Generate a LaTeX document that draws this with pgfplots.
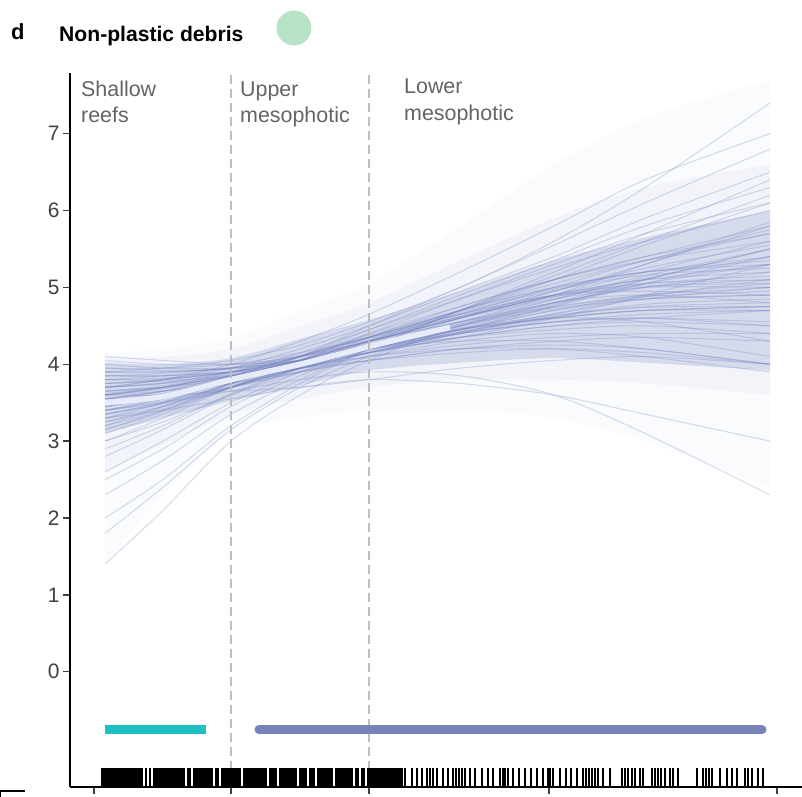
\documentclass[border=0pt]{standalone}
\usepackage{pgfplots}
\pgfplotsset{compat=1.18}
\usepgfplotslibrary{fillbetween}
\usepackage{fontspec}
\setmainfont{Liberation Sans}
\definecolor{spagc}{RGB}{112,128,190}
\definecolor{meanc}{RGB}{232,235,248}
\definecolor{shallowc}{RGB}{31,192,194}
\definecolor{mesoc}{RGB}{120,132,183}
\definecolor{dashc}{RGB}{190,190,190}
\definecolor{labc}{RGB}{100,100,100}
\definecolor{dotc}{RGB}{183,228,196}
\newcommand{\drawline}[9]{\addplot[spag] coordinates {(105,#1)(163,#2)(231,#3)(300,#4)(369,#5)(460,#6)(554,#7)(645,#8)(770,#9)};}
\begin{document}
\begin{tikzpicture}[x=1bp,y=1bp]
\begin{axis}[
  at={(70bp,10bp)}, anchor=south west,
  scale only axis, width=732bp, height=714bp,
  xmin=70, xmax=802, ymin=-1.5, ymax=7.79,
  axis lines*=left,
  axis line style={black, line width=2bp},
  xtick={94,231,369,549,777}, xticklabels={},
  ytick={0,1,2,3,4,5,6,7},
  tick align=outside, major tick length=7bp,
  tick style={black!75, line width=1.3bp},
  yticklabel style={font=\fontsize{21}{24}\selectfont, text=black!75},
  /pgf/number format/assume math mode=true,
  clip=false,
  spag/.style={color=spagc, opacity=0.27, line width=1.1bp, smooth, no markers},
]
% density bands
\addplot[name path=uo, draw=none, smooth] coordinates {(105,4.15)(163,4.2)(231,4.35)(300,4.7)(369,5.05)(460,5.8)(554,6.6)(645,7.2)(770,7.7)};
\addplot[name path=lo, draw=none, smooth] coordinates {(105,1.4)(163,2.3)(231,3.1)(300,3.3)(369,3.4)(460,3.4)(554,3.3)(645,3.0)(770,2.4)};
\addplot[spagc, fill opacity=0.035] fill between[of=uo and lo];
\addplot[name path=um, draw=none, smooth] coordinates {(105,4.1)(163,4.1)(231,4.2)(300,4.5)(369,4.8)(460,5.35)(554,5.9)(645,6.3)(770,6.6)};
\addplot[name path=lm, draw=none, smooth] coordinates {(105,2.6)(163,2.95)(231,3.35)(300,3.55)(369,3.7)(460,3.8)(554,3.8)(645,3.75)(770,3.6)};
\addplot[spagc, fill opacity=0.05] fill between[of=um and lm];
\addplot[name path=ui, draw=none, smooth] coordinates {(105,4.02)(163,4.0)(231,4.08)(300,4.33)(369,4.58)(460,4.95)(554,5.35)(645,5.65)(770,6.0)};
\addplot[name path=li, draw=none, smooth] coordinates {(105,3.1)(163,3.3)(231,3.52)(300,3.72)(369,3.92)(460,4.02)(554,4.08)(645,4.02)(770,3.92)};
\addplot[spagc, fill opacity=0.22] fill between[of=ui and li];
% posterior draws
\drawline{3.6}{3.7}{3.85}{4.05}{4.3}{4.55}{4.75}{4.9}{5.0}
\drawline{3.4}{3.55}{3.8}{4.05}{4.3}{4.6}{4.9}{5.1}{5.3}
\drawline{3.8}{3.8}{3.9}{4.05}{4.25}{4.45}{4.6}{4.7}{4.75}
\drawline{3.2}{3.45}{3.75}{4.0}{4.25}{4.55}{4.85}{5.15}{5.5}
\drawline{3.9}{3.9}{3.95}{4.1}{4.3}{4.6}{4.9}{5.2}{5.6}
\drawline{3.5}{3.6}{3.8}{4.0}{4.2}{4.4}{4.55}{4.65}{4.7}
\drawline{3.0}{3.3}{3.7}{4.0}{4.35}{4.75}{5.1}{5.4}{5.8}
\drawline{3.7}{3.75}{3.85}{4.0}{4.2}{4.35}{4.45}{4.5}{4.4}
\drawline{3.3}{3.45}{3.7}{3.95}{4.2}{4.5}{4.8}{5.0}{5.1}
\drawline{4.0}{3.95}{3.95}{4.05}{4.2}{4.4}{4.55}{4.6}{4.5}
\drawline{3.6}{3.7}{3.9}{4.15}{4.45}{4.85}{5.25}{5.6}{6.0}
\drawline{3.1}{3.35}{3.7}{3.95}{4.2}{4.45}{4.6}{4.7}{4.7}
\drawline{3.75}{3.8}{3.9}{4.05}{4.2}{4.3}{4.3}{4.2}{4.0}
\drawline{3.45}{3.6}{3.85}{4.1}{4.4}{4.75}{5.1}{5.35}{5.6}
\drawline{2.8}{3.15}{3.6}{3.95}{4.3}{4.7}{5.0}{5.2}{5.3}
\drawline{3.85}{3.85}{3.9}{4.0}{4.15}{4.35}{4.5}{4.6}{4.7}
\drawline{3.55}{3.65}{3.8}{3.95}{4.1}{4.25}{4.35}{4.4}{4.4}
\drawline{3.3}{3.5}{3.8}{4.1}{4.45}{4.9}{5.35}{5.8}{6.3}
\drawline{4.05}{4.0}{4.0}{4.1}{4.25}{4.5}{4.8}{5.1}{5.5}
\drawline{3.65}{3.7}{3.8}{3.95}{4.15}{4.4}{4.65}{4.85}{5.0}
\drawline{2.5}{2.9}{3.45}{3.85}{4.2}{4.6}{4.9}{5.1}{5.2}
\drawline{3.4}{3.55}{3.75}{3.95}{4.1}{4.2}{4.2}{4.1}{3.9}
\drawline{3.7}{3.8}{3.95}{4.2}{4.5}{4.95}{5.4}{5.9}{6.5}
\drawline{3.2}{3.4}{3.7}{3.95}{4.15}{4.35}{4.5}{4.55}{4.5}
\drawline{3.9}{3.9}{3.95}{4.05}{4.2}{4.45}{4.75}{5.05}{5.4}
\drawline{3.5}{3.6}{3.75}{3.95}{4.15}{4.4}{4.6}{4.7}{4.75}
\drawline{2.0}{2.5}{3.2}{3.75}{4.2}{4.7}{5.1}{5.4}{5.7}
\drawline{3.6}{3.65}{3.75}{3.9}{4.05}{4.2}{4.3}{4.35}{4.3}
\drawline{3.35}{3.5}{3.75}{4.05}{4.4}{4.85}{5.3}{5.7}{6.1}
\drawline{3.8}{3.85}{3.95}{4.1}{4.3}{4.55}{4.8}{5.0}{5.2}
\drawline{3.0}{3.25}{3.6}{3.9}{4.15}{4.4}{4.55}{4.6}{4.55}
\drawline{3.55}{3.65}{3.85}{4.1}{4.35}{4.65}{4.9}{5.05}{5.1}
\drawline{1.4}{2.1}{3.0}{3.6}{4.05}{4.5}{4.8}{4.9}{4.8}
\drawline{3.95}{3.95}{4.0}{4.15}{4.35}{4.7}{5.1}{5.55}{6.1}
\drawline{3.45}{3.55}{3.7}{3.9}{4.1}{4.3}{4.4}{4.35}{4.1}
\drawline{3.7}{3.75}{3.9}{4.1}{4.35}{4.7}{5.05}{5.35}{5.7}
\drawline{3.25}{3.45}{3.75}{4.05}{4.35}{4.65}{4.9}{4.95}{4.9}
\drawline{3.6}{3.7}{3.85}{4.05}{4.3}{4.6}{4.95}{5.3}{5.8}
\drawline{3.85}{3.85}{3.9}{3.95}{4.05}{4.15}{4.2}{4.15}{4.0}
\drawline{3.15}{3.4}{3.75}{4.1}{4.5}{5.0}{5.55}{6.1}{6.8}
\drawline{1.8}{2.4}{3.15}{3.7}{4.1}{4.45}{4.6}{4.55}{4.3}
\drawline{3.55}{3.65}{3.8}{4.0}{4.2}{4.45}{4.7}{4.9}{5.05}
\drawline{3.75}{3.8}{3.9}{4.05}{4.25}{4.55}{4.9}{5.3}{5.85}
\drawline{3.35}{3.5}{3.7}{3.9}{4.05}{4.2}{4.25}{4.2}{4.0}
\drawline{3.65}{3.7}{3.85}{4.0}{4.2}{4.45}{4.7}{4.85}{4.9}
\drawline{2.6}{3.0}{3.5}{3.9}{4.25}{4.7}{5.15}{5.6}{6.2}
\drawline{3.5}{3.6}{3.8}{4.05}{4.3}{4.6}{4.85}{5.0}{5.0}
\drawline{4.1}{4.05}{4.0}{4.05}{4.15}{4.35}{4.6}{4.9}{5.3}
\drawline{3.9}{3.95}{4.05}{4.25}{4.55}{5.0}{5.6}{6.3}{7.4}
\drawline{3.4}{3.5}{3.65}{3.8}{3.9}{3.85}{3.6}{3.1}{2.3}
\drawline{3.7}{3.8}{4.0}{4.3}{4.65}{5.2}{5.8}{6.4}{7.0}
\drawline{3.3}{3.4}{3.55}{3.7}{3.8}{3.75}{3.6}{3.35}{3.0}
\drawline{2.3}{2.75}{3.35}{3.8}{4.2}{4.7}{5.2}{5.7}{6.4}
\drawline{3.6}{3.6}{3.65}{3.7}{3.8}{3.95}{4.05}{4.1}{4.0}
\drawline{3.65}{3.72}{3.88}{4.1}{4.38}{4.7}{5.0}{5.2}{5.35}
\drawline{3.45}{3.58}{3.78}{4.0}{4.22}{4.5}{4.72}{4.85}{4.9}
\drawline{3.75}{3.78}{3.86}{4.0}{4.18}{4.42}{4.66}{4.88}{5.1}
\drawline{3.25}{3.42}{3.7}{3.98}{4.28}{4.62}{4.95}{5.25}{5.55}
\drawline{3.55}{3.62}{3.78}{3.98}{4.2}{4.48}{4.78}{5.05}{5.3}
\drawline{3.85}{3.88}{3.96}{4.12}{4.34}{4.62}{4.88}{5.05}{5.15}
\drawline{3.4}{3.52}{3.72}{3.94}{4.16}{4.42}{4.62}{4.75}{4.8}
\drawline{3.6}{3.68}{3.84}{4.06}{4.32}{4.65}{5.0}{5.35}{5.75}
\drawline{3.95}{3.92}{3.94}{4.04}{4.2}{4.42}{4.62}{4.78}{4.85}
\drawline{3.15}{3.38}{3.7}{4.0}{4.3}{4.62}{4.88}{5.02}{5.05}
\drawline{3.7}{3.76}{3.9}{4.1}{4.36}{4.68}{4.98}{5.2}{5.4}
\drawline{3.5}{3.6}{3.8}{4.02}{4.26}{4.52}{4.74}{4.88}{4.95}
\drawline{2.9}{3.2}{3.62}{3.96}{4.3}{4.66}{4.96}{5.16}{5.25}
\drawline{3.8}{3.82}{3.9}{4.02}{4.2}{4.46}{4.76}{5.1}{5.5}
\drawline{3.35}{3.48}{3.7}{3.94}{4.2}{4.52}{4.84}{5.12}{5.4}
\drawline{3.62}{3.7}{3.86}{4.04}{4.24}{4.46}{4.64}{4.74}{4.75}
% posterior mean
\addplot[meanc, line width=5.5bp, smooth] coordinates {(105,3.50)(163,3.58)(231,3.80)(300,4.0)(369,4.23)(410,4.36)(450,4.48)};
% zone boundaries
\addplot[dashc, line width=1.5bp, dash pattern=on 9bp off 5bp] coordinates {(231,7.77)(231,-1.28)};
\addplot[dashc, line width=1.5bp, dash pattern=on 9bp off 5bp] coordinates {(369,7.77)(369,-1.28)};
% depth ranges
\addplot[shallowc, line width=9bp, line cap=butt] coordinates {(105,-0.755)(206,-0.755)};
\addplot[mesoc, line width=9bp, line cap=round] coordinates {(259,-0.755)(762,-0.755)};
% rug (dense part)
\addplot[black, only marks, mark=|, mark size=9.5bp, line width=2bp] coordinates {
(102,-1.376)(104,-1.376)(106,-1.376)(108,-1.376)(110,-1.376)(112,-1.376)(114,-1.376)(116,-1.376)(118,-1.376)(120,-1.376)(122,-1.376)(124,-1.376)(126,-1.376)(128,-1.376)(130,-1.376)(132,-1.376)(134,-1.376)(136,-1.376)(138,-1.376)(140,-1.376)(142,-1.376)
(146,-1.376)(150,-1.376)(154,-1.376)(156,-1.376)(158,-1.376)(160,-1.376)(162,-1.376)(164,-1.376)(166,-1.376)(168,-1.376)(170,-1.376)(172,-1.376)(174,-1.376)(176,-1.376)(178,-1.376)(180,-1.376)(182,-1.376)(184,-1.376)
(188,-1.376)(190,-1.376)(194,-1.376)(196,-1.376)(198,-1.376)(200,-1.376)(202,-1.376)(204,-1.376)(206,-1.376)(208,-1.376)(210,-1.376)(212,-1.376)(216,-1.376)(218,-1.376)
(222,-1.376)(224,-1.376)(226,-1.376)(228,-1.376)(230,-1.376)(232,-1.376)(234,-1.376)(236,-1.376)(238,-1.376)(240,-1.376)(244,-1.376)(246,-1.376)(248,-1.376)(250,-1.376)(252,-1.376)(254,-1.376)(256,-1.376)(258,-1.376)(260,-1.376)(262,-1.376)(264,-1.376)(266,-1.376)
(270,-1.376)(272,-1.376)(274,-1.376)(276,-1.376)(280,-1.376)(282,-1.376)(284,-1.376)(286,-1.376)(288,-1.376)(290,-1.376)(292,-1.376)(294,-1.376)(296,-1.376)(300,-1.376)(302,-1.376)(304,-1.376)(306,-1.376)(310,-1.376)(312,-1.376)(314,-1.376)
(318,-1.376)(320,-1.376)(322,-1.376)(324,-1.376)(326,-1.376)(328,-1.376)(330,-1.376)(332,-1.376)(336,-1.376)(338,-1.376)(340,-1.376)(342,-1.376)(344,-1.376)(346,-1.376)(348,-1.376)(350,-1.376)(352,-1.376)
(356,-1.376)(358,-1.376)(362,-1.376)(364,-1.376)(368,-1.376)(370,-1.376)(372,-1.376)(374,-1.376)(376,-1.376)(378,-1.376)(380,-1.376)(382,-1.376)(384,-1.376)(386,-1.376)(388,-1.376)(390,-1.376)(392,-1.376)(394,-1.376)(396,-1.376)(398,-1.376)(400,-1.376)(402,-1.376)
};
% rug (sparse part)
\addplot[black, only marks, mark=|, mark size=9.5bp, line width=1.6bp] coordinates {
(405,-1.376)(412,-1.376)(417,-1.376)(422,-1.376)(427,-1.376)(430,-1.376)(433,-1.376)(437,-1.376)(443,-1.376)(448,-1.376)(453,-1.376)(456,-1.376)(459,-1.376)(462,-1.376)(465,-1.376)
(470,-1.376)(475,-1.376)(482,-1.376)(488,-1.376)(493,-1.376)(500,-1.376)(503,-1.376)(505,-1.376)(508,-1.376)(513,-1.376)(519,-1.376)(525,-1.376)(531,-1.376)(537,-1.376)(543,-1.376)(548,-1.376)
(550,-1.376)(553,-1.376)(560,-1.376)(566,-1.376)(571,-1.376)(577,-1.376)(583,-1.376)(586,-1.376)(589,-1.376)(592,-1.376)(595,-1.376)(598,-1.376)(603,-1.376)(610,-1.376)
(622,-1.376)(625,-1.376)(628,-1.376)(632,-1.376)(635,-1.376)(640,-1.376)(643,-1.376)(652,-1.376)(655,-1.376)(658,-1.376)(661,-1.376)(665,-1.376)(670,-1.376)(673,-1.376)(678,-1.376)
(697,-1.376)(703,-1.376)(706,-1.376)(709,-1.376)(712,-1.376)(720,-1.376)(727,-1.376)(732,-1.376)(737,-1.376)(745,-1.376)(748,-1.376)(752,-1.376)(758,-1.376)(763,-1.376)
};
\end{axis}
% title
\node[anchor=base west, inner sep=0, font=\fontsize{22}{26}\selectfont\bfseries] at (11,757) {d};
\node[anchor=base west, inner sep=0, font=\fontsize{21.2}{26}\selectfont\bfseries] at (59,755) {Non-plastic debris};
\fill[dotc] (294,769) circle (17.5);
% fragment of neighbouring panel
\draw[line width=1.6bp] (0,0) -- (0,6) -- (25,6);
% zone labels
\begin{scope}[every node/.style={anchor=base west, inner sep=0, text=labc, font=\fontsize{21.5}{26}\selectfont}]
\node at (81,700) {Shallow};
\node at (81,674) {reefs};
\node at (240,700) {Upper};
\node at (240,674) {mesophotic};
\node at (404,703) {Lower};
\node at (404,676) {mesophotic};
\end{scope}
\pgfresetboundingbox
\useasboundingbox (0,0) rectangle (802,797);
\end{tikzpicture}
\end{document}
